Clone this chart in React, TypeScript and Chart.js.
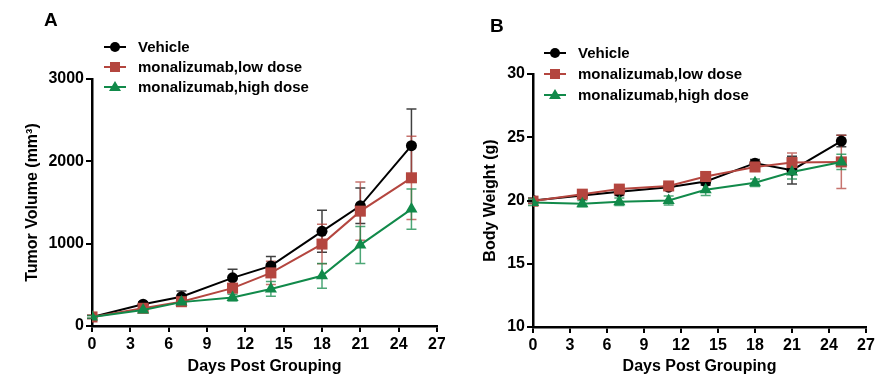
import React, { useEffect, useRef } from 'react';
import { Chart, registerables } from 'chart.js';

Chart.register(...registerables);

// ---------- data ----------
const days = [0, 4, 7, 11, 14, 18, 21, 25];
const seriesNames = ['Vehicle', 'monalizumab,low dose', 'monalizumab,high dose'];

// Panel A: tumor volume (mm³)
const vehicleVolume = [110, 265, 355, 585, 730, 1150, 1460, 2190];
const vehicleVolumeErr = [20, 30, 70, 105, 115, 255, 215, 445];
const lowDoseVolume = [110, 215, 295, 460, 645, 995, 1395, 1800];
const lowDoseVolumeErr = [20, 25, 45, 50, 140, 240, 355, 505];
const highDoseVolume = [110, 195, 290, 345, 450, 610, 985, 1420];
const highDoseVolumeErr = [15, 25, 35, 40, 90, 150, 225, 245];

// Panel B: body weight (g)
const vehicleWeight = [20.0, 20.4, 20.7, 21.05, 21.5, 22.95, 22.4, 24.7];
const vehicleWeightErr = [0.2, 0.2, 0.3, 0.2, 0.3, 0.3, 1.1, 0.45];
const lowDoseWeight = [19.95, 20.5, 20.9, 21.15, 21.9, 22.65, 23.0, 23.05];
const lowDoseWeightErr = [0.2, 0.2, 0.25, 0.2, 0.25, 0.3, 0.75, 2.1];
const highDoseWeight = [19.85, 19.75, 19.9, 20.0, 20.85, 21.4, 22.25, 23.05];
const highDoseWeightErr = [0.25, 0.25, 0.3, 0.35, 0.45, 0.3, 0.55, 0.6];

const xTickStep = 3;
const xMax = 27;

// ---------- styles ----------
const colors = ['#000000', '#b4463f', '#118a4a'];
const errColors = ['rgba(0,0,0,0.75)', 'rgba(180,70,63,0.75)', 'rgba(17,138,74,0.75)'];
const pointStyles = ['circle', 'rect', 'triangle'];
const pointRadii = [5.5, 7.8, 7];
const FONT = '"Liberation Sans", Arial, Helvetica, sans-serif';

const errorBarPlugin = {
  id: 'errorBars',
  beforeDatasetsDraw(chart: any) {
    const ctx = chart.ctx;
    const yScale = chart.scales.y;
    chart.data.datasets.forEach((ds: any, i: number) => {
      const meta = chart.getDatasetMeta(i);
      const errs = ds.errorBars;
      if (!errs) return;
      ctx.save();
      ctx.strokeStyle = ds.errorColor;
      ctx.lineWidth = 1.5;
      meta.data.forEach((pt: any, j: number) => {
        const v = ds.data[j].y;
        const e = errs[j];
        const x = pt.x;
        const yt = yScale.getPixelForValue(v + e);
        const yb = yScale.getPixelForValue(v - e);
        ctx.beginPath();
        ctx.moveTo(x, yt);
        ctx.lineTo(x, yb);
        ctx.moveTo(x - 5, yt);
        ctx.lineTo(x + 5, yt);
        ctx.moveTo(x - 5, yb);
        ctx.lineTo(x + 5, yb);
        ctx.stroke();
      });
      ctx.restore();
    });
  },
};

function drawMarker(ctx: CanvasRenderingContext2D, style: string, x: number, y: number, color: string) {
  ctx.fillStyle = color;
  ctx.beginPath();
  if (style === 'circle') {
    ctx.arc(x, y, 5, 0, Math.PI * 2);
  } else if (style === 'rect') {
    ctx.rect(x - 5, y - 5, 10, 10);
  } else {
    ctx.moveTo(x, y - 6);
    ctx.lineTo(x + 6, y + 4);
    ctx.lineTo(x - 6, y + 4);
    ctx.closePath();
  }
  ctx.fill();
}

const legendPlugin = {
  id: 'customLegend',
  afterDraw(chart: any, _args: any, opts: any) {
    const ctx = chart.ctx;
    ctx.save();
    // panel letter
    ctx.fillStyle = '#000';
    ctx.font = `bold 19px ${FONT}`;
    ctx.textBaseline = 'alphabetic';
    ctx.textAlign = 'left';
    ctx.fillText(opts.letter, opts.letterX, opts.letterY);
    // legend
    ctx.font = `bold 15px ${FONT}`;
    ctx.textBaseline = 'middle';
    seriesNames.forEach((name, k) => {
      const y = opts.y0 + k * opts.dy;
      ctx.strokeStyle = colors[k];
      ctx.lineWidth = 2;
      ctx.beginPath();
      ctx.moveTo(opts.x - 11, y);
      ctx.lineTo(opts.x + 11, y);
      ctx.stroke();
      drawMarker(ctx, pointStyles[k], opts.x, y, colors[k]);
      ctx.fillStyle = '#000';
      ctx.fillText(name, opts.textX, y + 1);
    });
    ctx.restore();
  },
};

function buildDatasets(values: number[][], errs: number[][]) {
  return seriesNames.map((name, k) => ({
    label: name,
    data: days.map((d, j) => ({ x: d, y: values[k][j] })),
    errorBars: errs[k],
    errorColor: errColors[k],
    borderColor: colors[k],
    backgroundColor: colors[k],
    pointBackgroundColor: colors[k],
    pointBorderColor: colors[k],
    pointBorderWidth: 0,
    pointStyle: pointStyles[k],
    pointRadius: pointRadii[k],
    borderWidth: 2,
    tension: 0,
    order: 3 - k,
  }));
}

interface PanelProps {
  left: number;
  width: number;
  values: number[][];
  errs: number[][];
  yMin: number;
  yMax: number;
  yStep: number;
  yTitle: string;
  yAxisWidth: number;
  xAxisHeight: number;
  padTop: number;
  padRight: number;
  yTitlePad: number;
  legend: any;
}

function Panel(p: PanelProps) {
  const ref = useRef<HTMLCanvasElement | null>(null);
  useEffect(() => {
    if (!ref.current) return;
    const tickFont = { family: FONT, size: 16, weight: 'bold' as const };
    const chart = new Chart(ref.current, {
      type: 'line',
      data: { datasets: buildDatasets(p.values, p.errs) as any },
      options: {
        animation: false,
        responsive: false,
        devicePixelRatio: 1,
        layout: { padding: { left: 0, right: p.padRight, top: p.padTop, bottom: 0 } },
        plugins: {
          legend: { display: false },
          tooltip: { enabled: false },
          customLegend: p.legend,
        } as any,
        scales: {
          x: {
            type: 'linear',
            min: 0,
            max: xMax,
            ticks: {
              stepSize: xTickStep,
              autoSkip: false,
              color: '#000',
              font: tickFont,
              padding: 3,
              maxRotation: 0,
              callback: (v: any) => String(v),
            },
            grid: { drawOnChartArea: false, color: '#000', lineWidth: 2, tickLength: 6 },
            border: { color: '#000', width: 2.5 },
            title: {
              display: true,
              text: 'Days Post Grouping',
              color: '#000',
              font: tickFont,
              padding: { top: 0, bottom: 11 },
            },
            afterFit: (s: any) => {
              s.height = p.xAxisHeight;
              s.paddingLeft = 0;
              s.paddingRight = 0;
            },
          },
          y: {
            type: 'linear',
            min: p.yMin,
            max: p.yMax,
            ticks: {
              stepSize: p.yStep,
              autoSkip: false,
              color: '#000',
              font: tickFont,
              padding: 2,
              callback: (v: any) => String(v),
            },
            grid: { drawOnChartArea: false, color: '#000', lineWidth: 2, tickLength: 6 },
            border: { color: '#000', width: 2.5 },
            title: {
              display: true,
              text: p.yTitle,
              color: '#000',
              font: tickFont,
              padding: { top: p.yTitlePad, bottom: 0 },
            },
            afterFit: (s: any) => {
              s.width = p.yAxisWidth;
              s.paddingTop = 0;
              s.paddingBottom = 0;
            },
          },
        },
      } as any,
      plugins: [errorBarPlugin, legendPlugin],
    });
    return () => chart.destroy();
  }, []);
  return (
    <canvas
      ref={ref}
      width={p.width}
      height={387}
      style={{ position: 'absolute', left: p.left, top: 0, width: p.width, height: 387, display: 'block' }}
    />
  );
}

export default function App() {
  return (
    <div style={{ position: 'fixed', left: 0, top: 0, width: 889, height: 387, background: '#fff' }}>
      <Panel
        left={0}
        width={445}
        values={[vehicleVolume, lowDoseVolume, highDoseVolume]}
        errs={[vehicleVolumeErr, lowDoseVolumeErr, highDoseVolumeErr]}
        yMin={0}
        yMax={3000}
        yStep={1000}
        yTitle="Tumor Volume (mm³)"
        yAxisWidth={92}
        xAxisHeight={61}
        padTop={79}
        padRight={8}
        yTitlePad={23}
        legend={{ letter: 'A', letterX: 44, letterY: 26, x: 115, textX: 138, y0: 47, dy: 20 }}
      />
      <Panel
        left={445}
        width={444}
        values={[vehicleWeight, lowDoseWeight, highDoseWeight]}
        errs={[vehicleWeightErr, lowDoseWeightErr, highDoseWeightErr]}
        yMin={10}
        yMax={30}
        yStep={5}
        yTitle="Body Weight (g)"
        yAxisWidth={88}
        xAxisHeight={60}
        padTop={74}
        padRight={23}
        yTitlePad={36}
        legend={{ letter: 'B', letterX: 45, letterY: 32, x: 110, textX: 133, y0: 53, dy: 21 }}
      />
    </div>
  );
}
